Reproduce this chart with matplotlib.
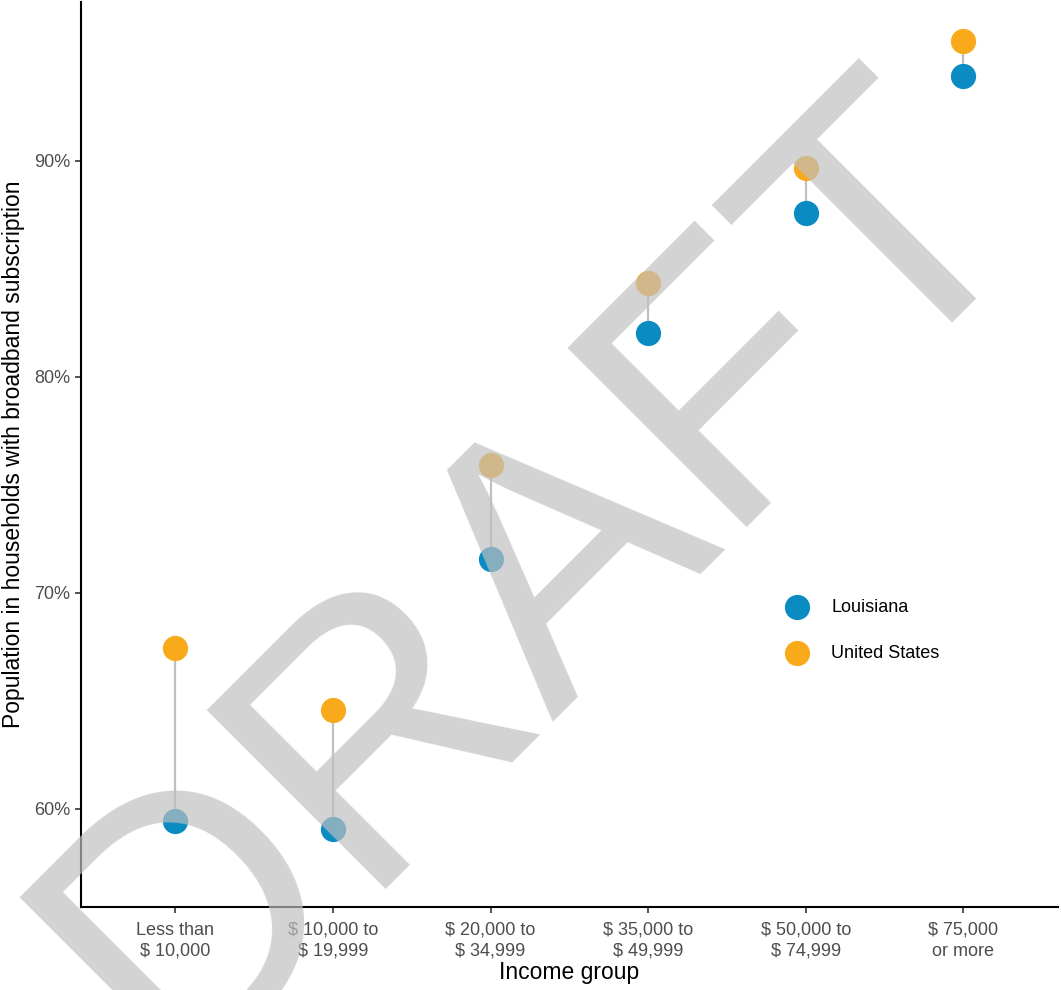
import numpy as np
import matplotlib
matplotlib.use("Agg")
import matplotlib.pyplot as plt
from matplotlib.ticker import FuncFormatter

plt.rcParams['font.family'] = ['Liberation Sans', 'DejaVu Sans']

# 데이터
income_groups = ["Less than\n$ 10,000", "$ 10,000 to\n$ 19,999", "$ 20,000 to\n$ 34,999",
                 "$ 35,000 to\n$ 49,999", "$ 50,000 to\n$ 74,999", "$ 75,000\nor more"]
louisiana = [59.45, 59.07, 71.57, 82.04, 87.6, 93.94]
united_states = [67.45, 64.58, 75.93, 84.35, 89.68, 95.56]

blue = '#0A8BC2'
orange = '#F8AA1A'

fig = plt.figure(figsize=(10.61, 9.9), dpi=100)
ax = fig.add_axes([0.0763, 0.0838, 0.9207, 0.9142])

x = np.arange(1, len(income_groups) + 1)

# 연결선
ax.vlines(x, louisiana, united_states, color='#c0c0c0', linewidth=1.6, zorder=1)

# 점
ax.scatter(x, louisiana, s=330, color=blue, zorder=2, label='Louisiana', linewidths=0)
ax.scatter(x, united_states, s=330, color=orange, zorder=2, label='United States', linewidths=0)

ax.set_xlim(0.4, 6.6)
ax.set_ylim(55.46, 97.36)
ax.set_xticks(x)
ax.set_xticklabels(income_groups, fontsize=13, color='#4d4d4d', linespacing=1.3)
ax.set_yticks([60, 70, 80, 90])
ax.yaxis.set_major_formatter(FuncFormatter(lambda v, p: '{:.0f}%'.format(v)))
ax.tick_params(axis='y', labelsize=13, labelcolor='#4d4d4d')
ax.tick_params(axis='both', length=4, width=1.2, color='#333333')
ax.tick_params(axis='x', pad=6.5)

for s in ['top', 'right']:
    ax.spines[s].set_visible(False)
for s in ['left', 'bottom']:
    ax.spines[s].set_linewidth(1.5)

ax.set_xlabel('Income group', fontsize=16.5, labelpad=1)
ax.set_ylabel('Population in households with broadband subscription', fontsize=16.5, labelpad=7)

ax.legend(loc='center left', bbox_to_anchor=(0.705, 0.306), frameon=False, fontsize=13,
          handletextpad=0.9, labelspacing=1.6, markerscale=1.0, borderpad=0)

# 워터마크
fig.text(0.505, 0.419, 'DRAFT', fontsize=265, color=(0.75, 0.75, 0.75), alpha=0.69,
         rotation=45, ha='center', va='center', zorder=10)

fig.savefig('out.png', dpi=100)
